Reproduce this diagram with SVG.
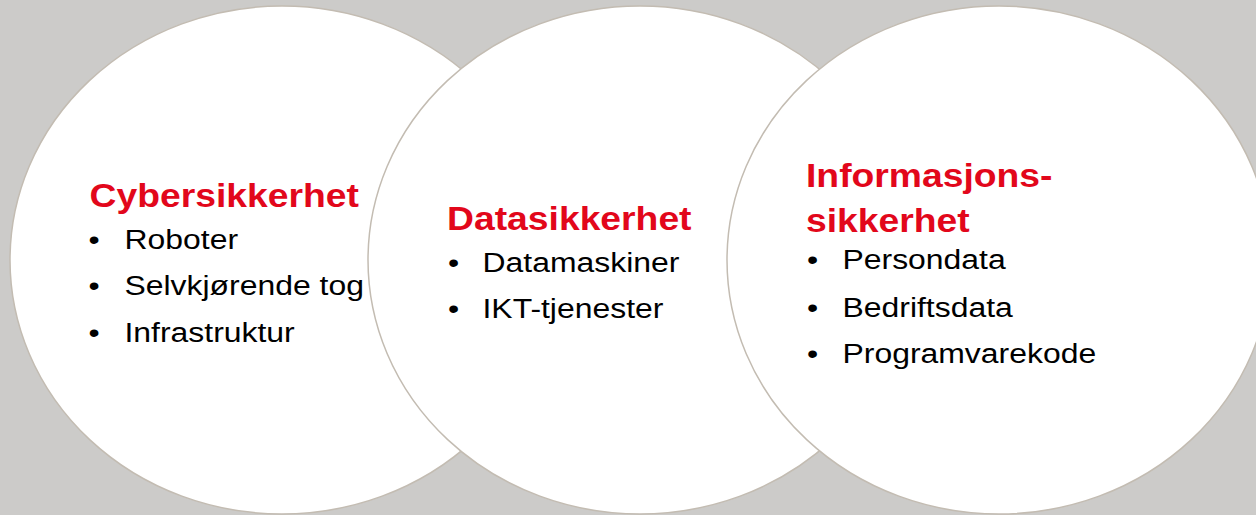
<svg xmlns="http://www.w3.org/2000/svg" width="1256" height="515" viewBox="0 0 1256 515">
  <style>
    .circ { fill: #ffffff; stroke: #c3bcb2; stroke-width: 1.5; }
    .title { font-family: "Liberation Sans", Arial, sans-serif; font-weight: bold; font-size: 33px; fill: #e2071b; }
    .item { font-family: "Liberation Sans", Arial, sans-serif; font-size: 28px; fill: #000000; }
  </style>
  <rect x="0" y="0" width="1256" height="515" fill="#cccbc9"/>
  <g id="connectors"></g>
  <g id="node-cyber">
    <ellipse class="circ" cx="282" cy="260" rx="272" ry="254"/>
    <text class="title" transform="matrix(1.13 0 0 1 89.5 207)">Cybersikkerhet</text>
    <text class="item" transform="matrix(1.14 0 0 1 88.5 249)">•</text>
    <text class="item" transform="matrix(1.14 0 0 1 124.5 249)">Roboter</text>
    <text class="item" transform="matrix(1.14 0 0 1 88.5 295)">•</text>
    <text class="item" transform="matrix(1.14 0 0 1 124.5 295)">Selvkjørende tog</text>
    <text class="item" transform="matrix(1.14 0 0 1 88.5 341.5)">•</text>
    <text class="item" transform="matrix(1.14 0 0 1 124.5 341.5)">Infrastruktur</text>
  </g>
  <g id="node-data">
    <ellipse class="circ" cx="640" cy="260" rx="272" ry="254"/>
    <text class="title" transform="matrix(1.13 0 0 1 447 229.5)">Datasikkerhet</text>
    <text class="item" transform="matrix(1.14 0 0 1 448 271.5)">•</text>
    <text class="item" transform="matrix(1.14 0 0 1 482.5 271.5)">Datamaskiner</text>
    <text class="item" transform="matrix(1.14 0 0 1 448 318.3)">•</text>
    <text class="item" transform="matrix(1.14 0 0 1 482.5 318.3)">IKT-tjenester</text>
  </g>
  <g id="node-info">
    <ellipse class="circ" cx="999" cy="260" rx="272" ry="254"/>
    <text class="title" transform="matrix(1.13 0 0 1 806 187.3)">Informasjons-</text>
    <text class="title" transform="matrix(1.13 0 0 1 806 231.7)">sikkerhet</text>
    <text class="item" transform="matrix(1.14 0 0 1 807 269.3)">•</text>
    <text class="item" transform="matrix(1.14 0 0 1 842.5 269.3)">Persondata</text>
    <text class="item" transform="matrix(1.14 0 0 1 807 316.5)">•</text>
    <text class="item" transform="matrix(1.14 0 0 1 842.5 316.5)">Bedriftsdata</text>
    <text class="item" transform="matrix(1.14 0 0 1 807 363.3)">•</text>
    <text class="item" transform="matrix(1.14 0 0 1 842.5 363.3)">Programvarekode</text>
  </g>
</svg>
